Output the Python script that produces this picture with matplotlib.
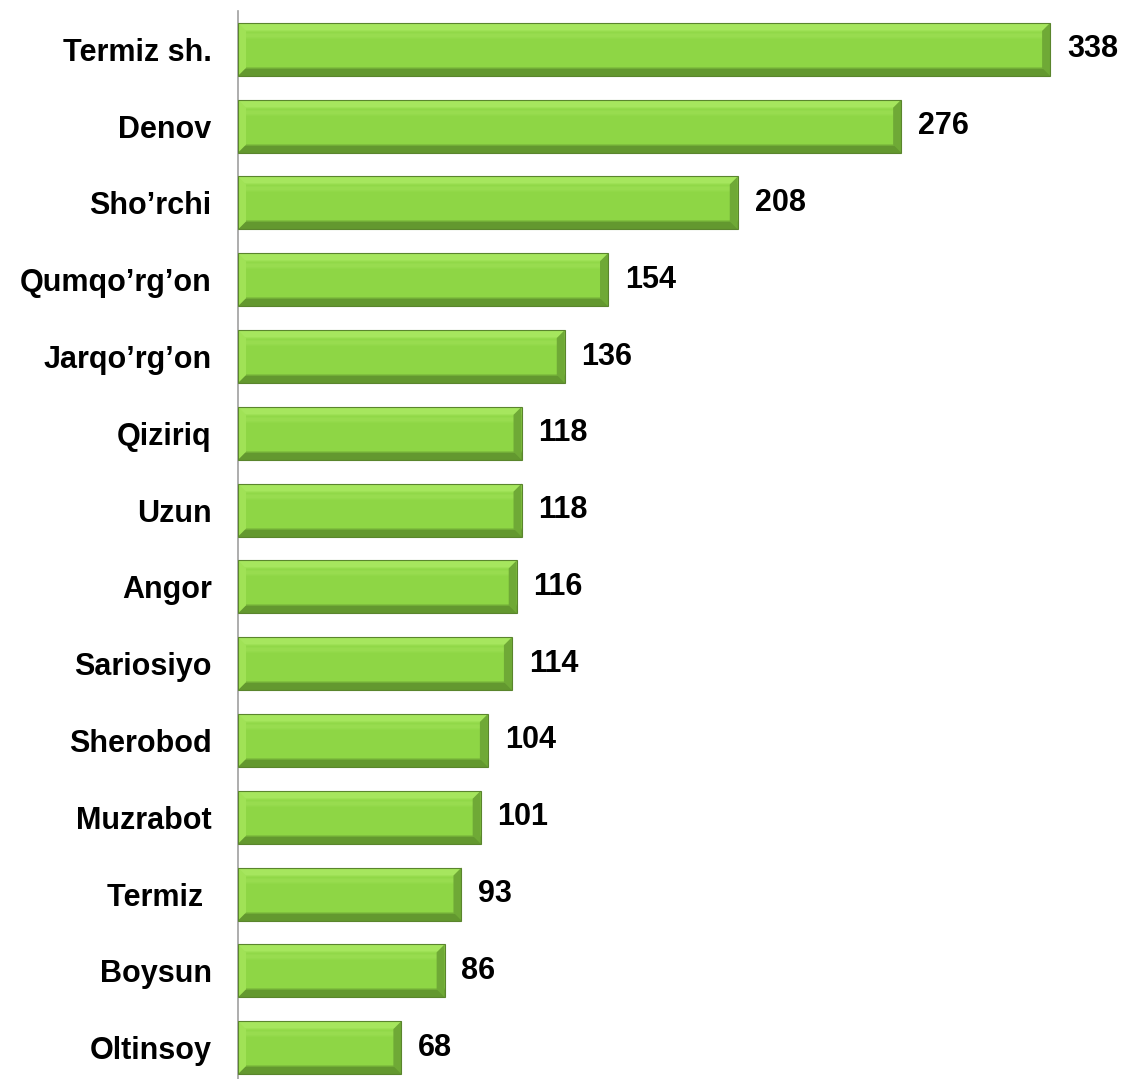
import numpy as np
import matplotlib.pyplot as plt
from matplotlib import colors as mcolors
from matplotlib.patches import Polygon

districts = ['Termiz sh.', 'Denov', "Sho\u2019rchi", "Qumqo\u2019rg\u2019on", "Jarqo\u2019rg\u2019on",
             'Qiziriq', 'Uzun', 'Angor', 'Sariosiyo', 'Sherobod', 'Muzrabot',
             'Termiz ', 'Boysun', 'Oltinsoy']
counts = [338, 276, 208, 154, 136, 118, 118, 116, 114, 104, 101, 93, 86, 68]

plt.rcParams['font.family'] = ['Liberation Sans Narrow', 'Liberation Sans', 'DejaVu Sans']

W, H = 1127, 1079
fig = plt.figure(figsize=(W / 100, H / 100), dpi=100)
ax = fig.add_axes([238 / W, -7 / H, (W - 238) / W, 1075 / H])

n = len(districts)
y = np.arange(n)
height = 0.69
xmax = 370
bars = ax.barh(y, counts, height=height, color='#8ed645', linewidth=0, zorder=2)

def rgb(c):
    return np.array(mcolors.to_rgb(c))

base = rgb('#8ed645')
top_c, left_c = rgb('#a6e65e'), rgb('#a0e256')
bot_c, right_c = rgb('#63982f'), rgb('#6fa936')

px_x = (W - 238) / xmax      # pixels per data unit along x
px_y = 1075 / n              # pixels per category along y
bar_px = int(round(height * px_y))
bev = 8

# vertical shading profile, one colour per pixel row
prof = np.tile(base, (bar_px, 1))
prof[:bev] = top_c
prof[bar_px - bev:] = bot_c
prof[int(bar_px * 0.2):int(bar_px * 0.3)] = 0.6 * base + 0.4 * top_c
ker = np.ones(3) / 3
prof = np.stack([np.convolve(np.pad(prof[:, i], 1, mode='edge'), ker, 'valid') for i in range(3)], axis=1)
prof = np.clip(prof, 0, 1)

row_h = height / bar_px
bx, by = bev / px_x, bev / px_y
for b, v in zip(bars, counts):
    x0, y0 = b.get_x(), b.get_y()
    y1 = y0 + b.get_height()
    for r in range(bar_px):
        ax.barh(y0 + (r + 0.5) * row_h, v, height=row_h * 1.05, color=prof[r],
                linewidth=0, antialiased=False, zorder=2.5)
    # end bevels
    ax.add_patch(Polygon([(x0, y0), (x0 + bx, y0 + by), (x0 + bx, y1 - by), (x0, y1)],
                         closed=True, facecolor=left_c, edgecolor='none', zorder=2.6))
    ax.add_patch(Polygon([(x0 + v, y0), (x0 + v - bx, y0 + by), (x0 + v - bx, y1 - by), (x0 + v, y1)],
                         closed=True, facecolor=right_c, edgecolor='none', zorder=2.6))
    ax.add_patch(Polygon([(x0, y0), (x0 + v, y0), (x0 + v, y1), (x0, y1)], closed=True,
                         facecolor='none', edgecolor='#5a852d', linewidth=0.8, zorder=2.7))
    ax.text(v + 7, y0 + b.get_height() / 2, str(v), va='center', ha='left',
            fontsize=22, fontweight='bold', color='black')

ax.set_xlim(0, xmax)
ax.set_ylim(n - 0.5, -0.5)
ax.set_yticks(y)
ax.set_yticklabels(districts, fontsize=22, fontweight='bold')
ax.tick_params(axis='y', length=0, pad=19)
ax.set_xticks([])
for s in ['top', 'right', 'bottom']:
    ax.spines[s].set_visible(False)
ax.spines['left'].set_color('#a0a0a0')
ax.spines['left'].set_linewidth(1.2)

fig.savefig('out.png', dpi=100)
